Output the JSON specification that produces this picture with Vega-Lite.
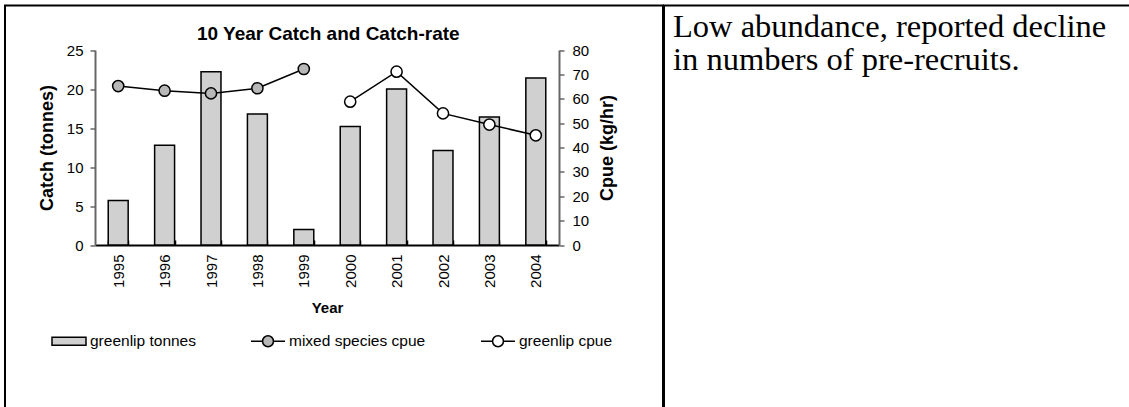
{
  "$schema": "https://vega.github.io/schema/vega-lite/v6.json",
  "padding": {"left": -3, "top": 4.5, "right": 0, "bottom": 0},
  "spacing": -2,
  "config": {
    "font": "Liberation Sans",
    "view": {"stroke": "black", "strokeWidth": 2},
    "axis": {"grid": false, "labelColor": "black", "titleColor": "black", "labelFont": "Liberation Sans", "titleFont": "Liberation Sans"}
  },
  "hconcat": [
    {
      "width": 658,
      "height": 420,
      "data": {
        "values": [
          {"Year": "1995", "series": "greenlip tonnes", "value": 5.7},
          {"Year": "1996", "series": "greenlip tonnes", "value": 12.8},
          {"Year": "1997", "series": "greenlip tonnes", "value": 22.2},
          {"Year": "1998", "series": "greenlip tonnes", "value": 16.8},
          {"Year": "1999", "series": "greenlip tonnes", "value": 2.0},
          {"Year": "2000", "series": "greenlip tonnes", "value": 15.2},
          {"Year": "2001", "series": "greenlip tonnes", "value": 20.0},
          {"Year": "2002", "series": "greenlip tonnes", "value": 12.1},
          {"Year": "2003", "series": "greenlip tonnes", "value": 16.4},
          {"Year": "2004", "series": "greenlip tonnes", "value": 21.4},
          {"Year": "1995", "series": "mixed species cpue", "value": 65.2},
          {"Year": "1996", "series": "mixed species cpue", "value": 63.3},
          {"Year": "1997", "series": "mixed species cpue", "value": 62.2},
          {"Year": "1998", "series": "mixed species cpue", "value": 64.3},
          {"Year": "1999", "series": "mixed species cpue", "value": 72.2},
          {"Year": "2000", "series": "greenlip cpue", "value": 58.8},
          {"Year": "2001", "series": "greenlip cpue", "value": 71.1},
          {"Year": "2002", "series": "greenlip cpue", "value": 54.0},
          {"Year": "2003", "series": "greenlip cpue", "value": 49.4},
          {"Year": "2004", "series": "greenlip cpue", "value": 45.0}
        ]
      },
      "encoding": {
        "x": {
          "field": "Year",
          "type": "ordinal",
          "scale": {"range": [90, 554], "paddingInner": 0.57, "paddingOuter": 0.285},
          "axis": {
            "orient": "bottom",
            "offset": -180.5,
            "title": "Year",
            "titleFontSize": 15,
            "titleFontWeight": "bold",
            "titlePadding": 13,
            "labelAngle": 270,
            "labelFontSize": 15,
            "labelPadding": 14,
            "tickBand": "extent",
            "tickSize": -5,
            "tickColor": "black",
            "tickWidth": 1.5,
            "domainColor": "black",
            "domainWidth": 2
          }
        }
      },
      "layer": [
        {
          "layer": [
            {
              "transform": [{"filter": "datum.series === 'greenlip tonnes'"}],
              "mark": {"type": "bar", "fill": "#d0d0d0", "stroke": "black", "strokeWidth": 1.5},
              "encoding": {
                "y": {
                  "field": "value",
                  "type": "quantitative",
                  "scale": {"domain": [0, 25], "range": [239.5, 44.5], "nice": false, "zero": true},
                  "axis": {
                    "orient": "left",
                    "offset": -90,
                    "values": [0, 5, 10, 15, 20, 25],
                    "title": "Catch (tonnes)",
                    "titleFontSize": 18,
                    "titleFontWeight": "bold",
                    "titlePadding": 10,
                    "labelFontSize": 15,
                    "labelPadding": 7,
                    "tickSize": 5,
                    "tickColor": "#666666",
                    "tickWidth": 1.5,
                    "domainColor": "#666666",
                    "domainWidth": 2
                  }
                }
              }
            },
            {
              "data": {"values": [{"heading": "10 Year Catch and Catch-rate"}]},
              "mark": {"type": "text", "align": "center", "baseline": "alphabetic", "dx": 24.5, "dy": -10, "font": "Liberation Sans", "fontSize": 19, "fontWeight": "bold", "color": "black"},
              "encoding": {
                "x": {"datum": "1999", "type": "ordinal"},
                "y": {"datum": 25, "type": "quantitative"},
                "text": {"field": "heading", "type": "nominal"}
              }
            }
          ]
        },
        {
          "layer": [
            {
              "transform": [{"filter": "datum.series !== 'greenlip tonnes'"}],
              "mark": {"type": "line", "color": "black", "strokeWidth": 1.5},
              "encoding": {
                "y": {
                  "field": "value",
                  "type": "quantitative",
                  "scale": {"domain": [0, 80], "range": [239.5, 44.5], "nice": false},
                  "axis": {
                    "orient": "right",
                    "offset": -104,
                    "values": [0, 10, 20, 30, 40, 50, 60, 70, 80],
                    "title": "Cpue (kg/hr)",
                    "titleAngle": 270,
                    "titleBaseline": "top",
                    "titleFontSize": 18,
                    "titleFontWeight": "bold",
                    "titlePadding": 10,
                    "labelFontSize": 15,
                    "labelPadding": 8,
                    "tickSize": 5,
                    "tickColor": "#666666",
                    "tickWidth": 1.5,
                    "domainColor": "#666666",
                    "domainWidth": 2
                  }
                },
                "detail": {"field": "series", "type": "nominal"}
              }
            },
            {
              "transform": [{"filter": "datum.series === 'mixed species cpue'"}],
              "mark": {"type": "point", "shape": "circle", "filled": true, "fill": "#b8b8b8", "stroke": "black", "strokeWidth": 1.5, "size": 125, "opacity": 1},
              "encoding": {"y": {"field": "value", "type": "quantitative"}}
            },
            {
              "transform": [{"filter": "datum.series === 'greenlip cpue'"}],
              "mark": {"type": "point", "shape": "circle", "filled": true, "fill": "white", "stroke": "black", "strokeWidth": 1.5, "size": 125, "opacity": 1},
              "encoding": {"y": {"field": "value", "type": "quantitative"}}
            },
            {
              "transform": [{"filter": "false"}],
              "mark": {"type": "point", "filled": true, "stroke": "black", "strokeWidth": 1.5, "opacity": 1},
              "encoding": {
                "y": {"field": "value", "type": "quantitative"},
                "fill": {
                  "field": "series",
                  "type": "nominal",
                  "scale": {"domain": ["greenlip tonnes", "mixed species cpue", "greenlip cpue"], "range": ["#d0d0d0", "#b8b8b8", "white"]},
                  "legend": {
                    "title": null,
                    "orient": "none",
                    "legendX": 46,
                    "legendY": 317.5,
                    "direction": "horizontal",
                    "columns": 3,
                    "columnPadding": 52,
                    "labelOffset": 3,
                    "labelFontSize": 15.5,
                    "labelColor": "black",
                    "labelFont": "Liberation Sans",
                    "symbolSize": 1156,
                    "symbolStrokeColor": "black",
                    "symbolStrokeWidth": 1.5,
                    "symbolOpacity": 1,
                    "padding": 0,
                    "encode": {"symbols": {"update": {"stroke": {"value": "black"}, "strokeWidth": {"value": 1.5}, "opacity": {"value": 1}}}}
                  }
                },
                "shape": {
                  "field": "series",
                  "type": "nominal",
                  "scale": {
                    "domain": ["greenlip tonnes", "mixed species cpue", "greenlip cpue"],
                    "range": [
                      "M-1,-0.24H1V0.24H-1Z",
                      "M-1,0H-0.32M0.32,0H1M0.32,0A0.32,0.32,0,1,1,-0.32,0A0.32,0.32,0,1,1,0.32,0Z",
                      "M-1,0H-0.32M0.32,0H1M0.32,0A0.32,0.32,0,1,1,-0.32,0A0.32,0.32,0,1,1,0.32,0Z"
                    ]
                  },
                  "legend": {
                    "title": null,
                    "orient": "none",
                    "legendX": 46,
                    "legendY": 317.5,
                    "direction": "horizontal",
                    "columns": 3,
                    "columnPadding": 52,
                    "labelOffset": 3,
                    "labelFontSize": 15.5,
                    "labelColor": "black",
                    "labelFont": "Liberation Sans",
                    "symbolSize": 1156,
                    "symbolStrokeColor": "black",
                    "symbolStrokeWidth": 1.5,
                    "symbolOpacity": 1,
                    "padding": 0,
                    "encode": {"symbols": {"update": {"stroke": {"value": "black"}, "strokeWidth": {"value": 1.5}, "opacity": {"value": 1}}}}
                  }
                }
              }
            }
          ]
        }
      ],
      "resolve": {"scale": {"y": "independent"}}
    },
    {
      "width": 466,
      "height": 420,
      "data": {"values": [{"note": "Low abundance, reported decline\nin numbers of pre-recruits."}]},
      "mark": {"type": "text", "align": "left", "baseline": "alphabetic", "lineBreak": "\n", "dx": 9, "dy": 31.5, "font": "Liberation Serif", "fontSize": 32.5, "lineHeight": 33, "color": "black"},
      "encoding": {
        "x": {"datum": 0, "type": "quantitative", "scale": {"domain": [0, 1]}, "axis": null},
        "y": {"datum": 1, "type": "quantitative", "scale": {"domain": [0, 1]}, "axis": null},
        "text": {"field": "note", "type": "nominal"}
      }
    }
  ]
}
